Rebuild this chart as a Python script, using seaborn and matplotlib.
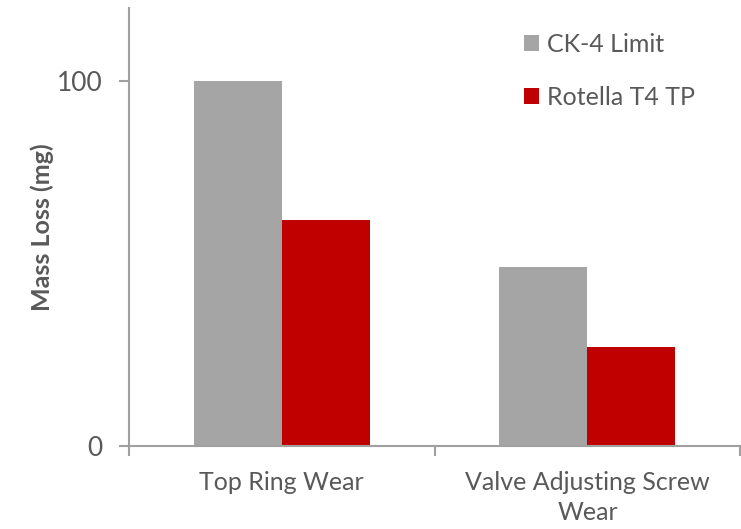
import pandas as pd
import matplotlib.pyplot as plt
import seaborn as sns

# Data
categories = ["Top Ring Wear", "Valve Adjusting Screw\nWear"]
series = ["CK-4 Limit", "Rotella T4 TP"]
ck4_limit = [100, 49]
rotella_t4 = [62, 27]
colors = ["#A5A5A5", "#C00000"]


def main():
    sns.set_theme(style="white")
    plt.rcParams['font.family'] = ['Lato', 'DejaVu Sans']

    df = pd.DataFrame({
        'category': categories * 2,
        'series': [series[0]] * 2 + [series[1]] * 2,
        'value': ck4_limit + rotella_t4,
    })

    fig = plt.figure(figsize=(7.41, 5.29), dpi=100)
    ax = fig.add_axes([0.174, 0.157, 0.825, 0.828])

    sns.barplot(data=df, x='category', y='value', hue='series', palette=colors,
                width=0.576, saturation=1, ax=ax, edgecolor='none')

    ax.set_xlim(-0.5, 1.5)
    ax.set_ylim(0, 120)
    ax.set_yticks([0, 100])
    ax.set_xlabel("")
    ax.set_ylabel("Mass Loss (mg)", fontsize=18, color='#595959', fontweight='bold', labelpad=2)

    axis_col = '#A0A0A0'
    txt_col = '#595959'
    for side in ['top', 'right']:
        ax.spines[side].set_visible(False)
    for side in ['left', 'bottom']:
        ax.spines[side].set_color(axis_col)
        ax.spines[side].set_linewidth(1.5)

    ax.tick_params(axis='y', length=7, width=1.5, color=axis_col, labelcolor=txt_col,
                   labelsize=19, pad=12, left=True)
    ax.tick_params(axis='x', length=0, labelcolor=txt_col, labelsize=18, pad=18)
    for lbl in ax.get_xticklabels():
        lbl.set_linespacing(1.35)
    ax.set_xticks([-0.5, 0.5, 1.5], minor=True)
    ax.tick_params(axis='x', which='minor', length=7, width=1.5, color=axis_col, bottom=True)

    ax.legend(loc='upper left', bbox_to_anchor=(0.61, 0.995), frameon=False,
              fontsize=18, labelcolor=txt_col, handlelength=0.6, handleheight=0.6,
              handletextpad=0.3, labelspacing=1.2)

    fig.savefig('out.png', dpi=100)
    plt.close(fig)


if __name__ == "__main__":
    main()
